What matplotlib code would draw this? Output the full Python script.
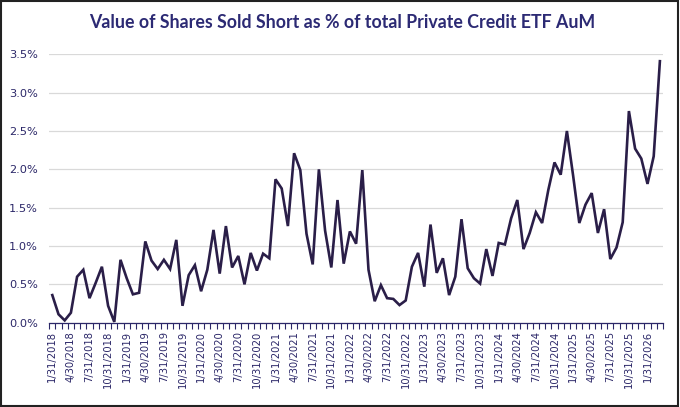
import numpy as np
import pandas as pd
import matplotlib.pyplot as plt
from matplotlib.ticker import FixedLocator, FuncFormatter
from matplotlib.patches import Rectangle

# month-end dates, Jan 2018 .. Mar 2026
dates = pd.date_range("2018-01-31", "2026-03-31", freq="ME")

short_pct = [
    0.36, 0.11, 0.03, 0.13, 0.60, 0.69, 0.32, 0.52, 0.73, 0.22, 0.01, 0.82,
    0.58, 0.37, 0.39, 1.06, 0.81, 0.70, 0.82, 0.70, 1.08, 0.22, 0.62, 0.75,
    0.41, 0.69, 1.21, 0.64, 1.26, 0.72, 0.87, 0.50, 0.91, 0.68, 0.90, 0.84,
    1.87, 1.75, 1.26, 2.21, 1.99, 1.16, 0.76, 2.00, 1.20, 0.72, 1.60, 0.77,
    1.19, 1.03, 1.99, 0.69, 0.28, 0.49, 0.32, 0.31, 0.23, 0.29, 0.73, 0.91,
    0.47, 1.28, 0.65, 0.84, 0.36, 0.60, 1.35, 0.71, 0.58, 0.51, 0.96, 0.61,
    1.04, 1.02, 1.36, 1.60, 0.96, 1.17, 1.44, 1.30, 1.73, 2.09, 1.93, 2.50,
    1.92, 1.30, 1.54, 1.69, 1.17, 1.48, 0.83, 0.98, 1.31, 2.76, 2.27, 2.14,
    1.81, 2.17, 3.41,
]

labels = [f"{d.month}/{d.day}/{d.year}" for d in dates]

navy = "#2B2768"
line_col = "#2A1E48"

fig = plt.figure(figsize=(6.8, 4.07), dpi=100)
ax = fig.add_axes([49.2 / 680, 1 - 322.7 / 407, (663 - 49.2) / 680, (322.7 - 54.3) / 407])

x = np.arange(len(short_pct))
ax.plot(x, short_pct, color=line_col, linewidth=1.9, solid_joinstyle="miter", clip_on=False)

ax.set_xlim(-0.5, len(short_pct) - 0.5)
ax.set_ylim(0, 3.5)
ax.set_yticks(np.arange(0, 3.51, 0.5))
ax.yaxis.set_major_formatter(FuncFormatter(lambda v, p: f"{v:.1f}%"))
ax.grid(axis="y", color="#D9D9D9", linewidth=0.9)
ax.set_axisbelow(True)

# labels every quarter, tick marks between each month
ax.xaxis.set_major_locator(FixedLocator(x[::3]))
ax.set_xticklabels(labels[::3], rotation=90)
ax.xaxis.set_minor_locator(FixedLocator(np.arange(-0.5, len(short_pct), 1)))
ax.tick_params(axis="x", which="major", length=0, pad=6, labelsize=7.2, labelcolor=navy)
ax.tick_params(axis="x", which="minor", length=4, width=0.8, color=navy)
ax.tick_params(axis="y", length=0, pad=8, labelsize=8.2, labelcolor=navy)

for s in ["top", "right", "left"]:
    ax.spines[s].set_visible(False)
ax.spines["bottom"].set_color(navy)
ax.spines["bottom"].set_linewidth(0.9)

fig.text(342 / 680, 1 - 23 / 407, "Value of Shares Sold Short as % of total Private Credit ETF AuM",
         ha="center", va="center", fontsize=12.8, fontweight="bold", color="#2C2A74",
         family=["Lato", "DejaVu Sans"])

fig.patches.append(Rectangle((0.002, 0.003), 0.995, 0.994, transform=fig.transFigure,
                             fill=False, edgecolor="#222222", linewidth=1.5))

fig.savefig("out.png", dpi=100)
